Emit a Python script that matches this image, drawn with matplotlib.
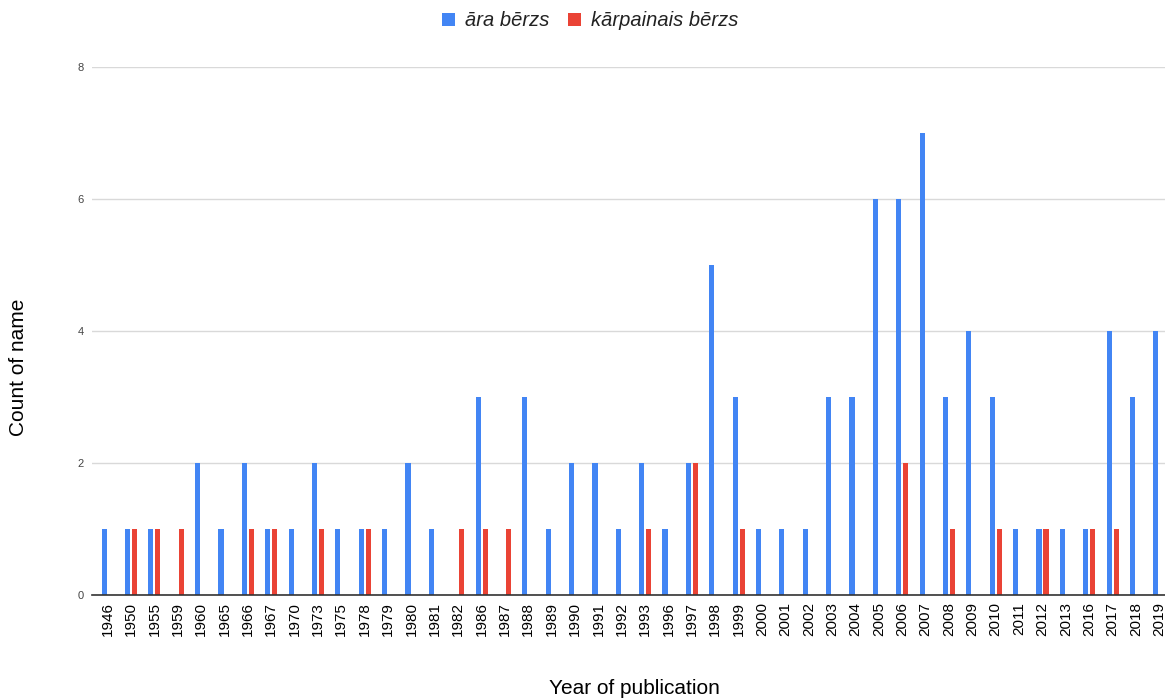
import matplotlib
matplotlib.use("Agg")
import matplotlib.pyplot as plt
import numpy as np

years = ["1946", "1950", "1955", "1959", "1960", "1965", "1966", "1967", "1970", "1973",
         "1975", "1978", "1979", "1980", "1981", "1982", "1986", "1987", "1988", "1989",
         "1990", "1991", "1992", "1993", "1996", "1997", "1998", "1999", "2000", "2001",
         "2002", "2003", "2004", "2005", "2006", "2007", "2008", "2009", "2010", "2011",
         "2012", "2013", "2016", "2017", "2018", "2019"]
ara_berzs = [1, 1, 1, 0, 2, 1, 2, 1, 1, 2,
             1, 1, 1, 2, 1, 0, 3, 0, 3, 1,
             2, 2, 1, 2, 1, 2, 5, 3, 1, 1,
             1, 3, 3, 6, 6, 7, 3, 4, 3, 1,
             1, 1, 1, 4, 3, 4]
karpainais_berzs = [0, 1, 1, 1, 0, 0, 1, 1, 0, 1,
                    0, 1, 0, 0, 0, 1, 1, 1, 0, 0,
                    0, 0, 0, 1, 0, 2, 0, 1, 0, 0,
                    0, 0, 0, 0, 2, 0, 1, 0, 1, 0,
                    1, 0, 1, 1, 0, 0]
series_names = ["āra bērzs", "kārpainais bērzs"]
colors = ["#4285F4", "#EA4335"]
y_ticks = [0, 2, 4, 6, 8]

plt.rcParams['font.family'] = ['Liberation Sans', 'DejaVu Sans']

W, H = 1165, 699
fig = plt.figure(figsize=(W / 100, H / 100), dpi=100)
left_px, right_px, bottom_px, top_px = 92, 1175, 595, 67
ax = fig.add_axes([left_px / W, (H - bottom_px) / H, (right_px - left_px) / W, (bottom_px - top_px) / H])

x = np.arange(len(years))
bw = 0.22
off = 0.15
ax.bar(x - off, ara_berzs, width=bw, color=colors[0], label=series_names[0], zorder=3)
ax.bar(x + off, karpainais_berzs, width=bw, color=colors[1], label=series_names[1], zorder=3)

ax.set_xlim(-0.67, len(years) - 0.33)
ax.set_ylim(0, 8)
ax.set_yticks(y_ticks)
ax.set_yticklabels([str(v) for v in y_ticks], fontsize=8, color="#444444")
ax.set_xticks(x)
ax.set_xticklabels(years, rotation=90, fontsize=11, color="#000000")
ax.tick_params(axis='both', length=0)
ax.tick_params(axis='x', pad=5)
ax.tick_params(axis='y', pad=6)
ax.grid(axis='y', color="#d9d9d9", linewidth=1, zorder=0)
for s in ["top", "right", "left"]:
    ax.spines[s].set_visible(False)
ax.spines["bottom"].set_color("#333333")
ax.spines["bottom"].set_linewidth(1.2)
ax.spines["bottom"].set_zorder(4)

fig.text(634 / W, 1 - 689 / H, "Year of publication", ha="center", va="center", fontsize=15, color="#000000")
fig.text(19 / W, 1 - 367 / H, "Count of name", ha="center", va="center", rotation=90, fontsize=15, color="#000000")

leg = fig.legend(loc="center", bbox_to_anchor=(590 / W, 1 - 21 / H), ncol=2, frameon=False,
                 prop={'style': 'italic', 'size': 14.5}, handlelength=0.65, handleheight=0.65,
                 handletextpad=0.5, columnspacing=0.9)
for t in leg.get_texts():
    t.set_color("#222222")

fig.savefig("out.png", dpi=100)
